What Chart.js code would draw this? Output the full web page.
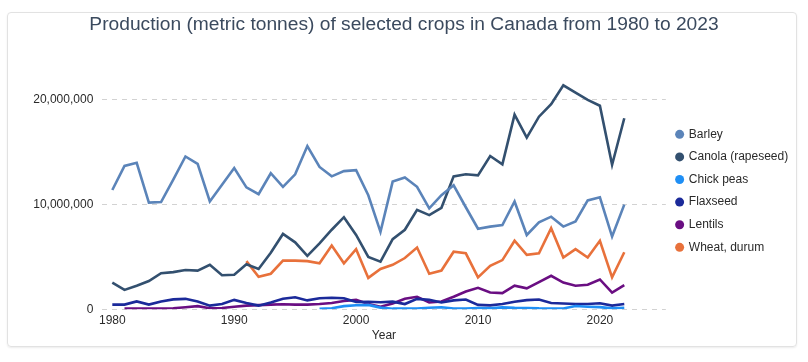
<!DOCTYPE html>
<html>
<head>
<meta charset="utf-8">
<script src="https://cdn.jsdelivr.net/npm/chart.js@4.4.1/dist/chart.umd.min.js"></script>
<style>
  html, body { margin: 0; padding: 0; background: #fff; }
  #wrap { position: relative; width: 808px; height: 362px; }
  .card {
    position: absolute; left: 7px; top: 12px; width: 790px; height: 335px;
    box-sizing: border-box; border: 1px solid #e2e2e2; border-radius: 4px;
    box-shadow: 0 1px 2px rgba(0,0,0,.08);
  }
  canvas { position: absolute; left: 0; top: 0; }
</style>
</head>
<body>
<div id="wrap">
  <div class="card"></div>
  <canvas id="chart" width="808" height="362"></canvas>
</div>
<script>
// years 1980..2022, values in tonnes (null = no data)
const years = [1980,1981,1982,1983,1984,1985,1986,1987,1988,1989,1990,1991,1992,1993,1994,1995,1996,1997,1998,1999,
  2000,2001,2002,2003,2004,2005,2006,2007,2008,2009,2010,2011,2012,2013,2014,2015,2016,2017,2018,2019,2020,2021,2022];

const barley = [11400000,13700000,14000000,10200000,10250000,12400000,14600000,13900000,10300000,11900000,
  13500000,11650000,11000000,13000000,11700000,12900000,15600000,13600000,12700000,13200000,
  13300000,10900000,7400000,12200000,12600000,11700000,9650000,10900000,11850000,9750000,
  7700000,7900000,8050000,10300000,7100000,8300000,8850000,7900000,8400000,10400000,10700000,6950000,10000000];

const canola = [2550000,1850000,2250000,2700000,3450000,3550000,3750000,3700000,4250000,3250000,
  3300000,4300000,3850000,5400000,7200000,6400000,5100000,6300000,7600000,8800000,
  7100000,5000000,4550000,6700000,7600000,9500000,9000000,9700000,12700000,12900000,
  12800000,14650000,13850000,18600000,16400000,18400000,19600000,21400000,20700000,20000000,19450000,13800000,18250000];

const chickPeas = [null,null,null,null,null,null,null,null,null,null,
  null,null,null,null,null,null,null,50000,100000,300000,
  390000,420000,160000,60000,70000,70000,150000,200000,70000,80000,
  130000,90000,180000,140000,130000,90000,80000,70000,310000,250000,210000,90000,140000];

const flaxseed = [450000,450000,750000,450000,750000,950000,1000000,750000,350000,500000,
  900000,600000,350000,650000,1000000,1150000,850000,1050000,1100000,1050000,
  700000,720000,680000,730000,500000,1000000,900000,650000,850000,930000,
  420000,380000,500000,720000,880000,940000,600000,550000,500000,500000,580000,350000,500000];

const lentils = [null,60000,80000,80000,60000,100000,200000,300000,100000,130000,
  250000,350000,400000,450000,480000,450000,450000,500000,600000,800000,
  900000,500000,250000,550000,1000000,1200000,650000,750000,1200000,1700000,
  2050000,1600000,1550000,2250000,2000000,2600000,3200000,2550000,2250000,2350000,2850000,1600000,2300000];

const wheatDurum = [null,null,null,null,null,null,null,null,null,null,
  null,4600000,3100000,3400000,4650000,4650000,4600000,4400000,6100000,4400000,
  5750000,3000000,3850000,4250000,4900000,5900000,3400000,3700000,5500000,5350000,
  3050000,4150000,4700000,6550000,5200000,5350000,7750000,4950000,5750000,4950000,6550000,3050000,5450000];

const seriesNames = ['Barley', 'Canola (rapeseed)', 'Chick peas', 'Flaxseed', 'Lentils', 'Wheat, durum'];
const seriesColors = ['#5b84b9', '#33506f', '#1f8ff5', '#1b2a9a', '#6a0e82', '#e8713b'];
const seriesValues = [barley, canola, chickPeas, flaxseed, lentils, wheatDurum];

const xTicks = [1980, 1990, 2000, 2010, 2020];
const yTicks = [0, 10000000, 20000000];

const FONT = '"Liberation Sans", Arial, Helvetica, sans-serif';
const TEXT = '#2a2a2a';

const datasets = seriesNames.map((name, i) => ({
  label: name,
  data: years.map((yr, j) => ({x: yr, y: seriesValues[i][j]})),
  borderColor: seriesColors[i],
  backgroundColor: seriesColors[i],
  borderWidth: 2.6,
  pointRadius: 0,
  pointHoverRadius: 0,
  tension: 0,
}));

new Chart(document.getElementById('chart'), {
  type: 'line',
  data: { datasets },
  options: {
    responsive: false,
    animation: false,
    layout: { padding: { left: 9.8, right: 9.8, top: 0, bottom: 19.3 } },
    plugins: {
      title: {
        display: true,
        text: 'Production (metric tonnes) of selected crops in Canada from 1980 to 2023',
        color: '#3b4a5e',
        font: { family: FONT, size: 19.2, weight: 'normal', lineHeight: 1.2 },
        padding: { top: 13, bottom: 36.3 },
      },
      legend: {
        position: 'right',
        fullSize: false,
        labels: {
          usePointStyle: true,
          pointStyle: 'circle',
          boxWidth: 6.36,
          boxHeight: 6.36,
          padding: 10.6,
          color: TEXT,
          font: { family: FONT, size: 12 },
          generateLabels: chart => {
            const items = Chart.defaults.plugins.legend.labels.generateLabels(chart);
            items.forEach(it => { it.lineWidth = 0; it.fillStyle = it.strokeStyle; });
            return items;
          },
        },
      },
      tooltip: { enabled: false },
    },
    scales: {
      x: {
        type: 'linear',
        min: 1979.154,
        max: 2025.41,
        grid: { display: false, drawTicks: false },
        border: { display: false },
        afterBuildTicks: scale => { scale.ticks = xTicks.map(v => ({ value: v })); },
        ticks: {
          autoSkip: false,
          maxRotation: 0,
          padding: 4,
          color: TEXT,
          font: { family: FONT, size: 12 },
          callback: v => String(v),
        },
        title: {
          display: true,
          text: 'Year',
          color: TEXT,
          font: { family: FONT, size: 12 },
          padding: { top: -3.4, bottom: 0 },
        },
      },
      y: {
        min: 0,
        max: 22640000,
        border: { display: false, dash: [5, 5] },
        grid: { color: '#d2d2d2', lineWidth: 1, drawTicks: false },
        afterBuildTicks: scale => { scale.ticks = yTicks.map(v => ({ value: v })); },
        afterFit: scale => { scale.width = 92.2; },
        ticks: {
          padding: 8.7,
          color: TEXT,
          font: { family: FONT, size: 12 },
          callback: v => Number(v).toLocaleString('en-US'),
        },
      },
    },
  },
});
</script>
</body>
</html>
